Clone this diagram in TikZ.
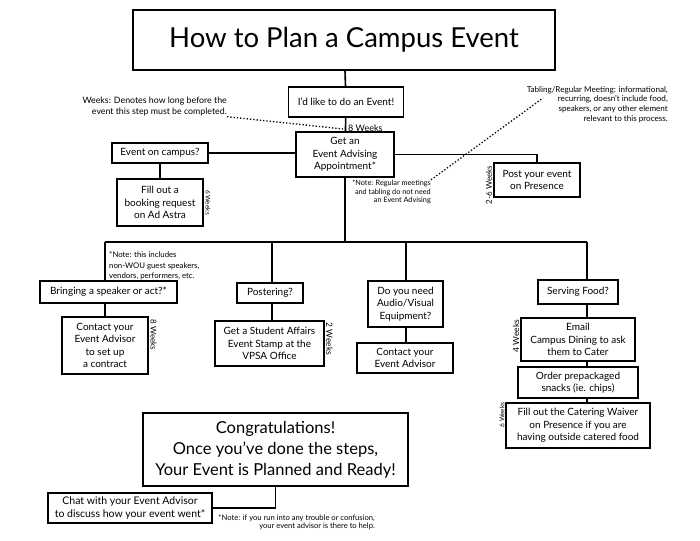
\documentclass[tikz,border=0pt]{standalone}
\usepackage{fontspec}
\setmainfont{Lato}
\usetikzlibrary{positioning}

\tikzset{
  box/.style={draw, line width=1.4pt, align=center, inner sep=1pt,
    font=\fontsize{10}{12.5}\selectfont},
  wk/.style={font=\fontsize{8}{9}\selectfont, inner sep=0pt},
  note/.style={font=\fontsize{7.5}{8.5}\selectfont, inner sep=0pt},
  conn/.style={line width=1.6pt},
  dots/.style={dotted, line width=1.3pt},
}

\begin{document}
\begin{tikzpicture}[x=1pt, y=-1pt]
\useasboundingbox (0,0) rectangle (700,540);

% title and first steps
\node[box, minimum width=422, minimum height=60, font=\fontsize{27.5}{32}\selectfont] at (344,40) (title) {How to Plan a Campus Event};
\node[box, minimum width=115, minimum height=30] at (346,102) (like) {I’d like to do an Event!};
\node[box, minimum width=98, minimum height=45] at (345,154.5) (appt) {Get an\\Event Advising\\Appointment*};
\node[box, minimum width=96, minimum height=20] at (160,153) (campus) {Event on campus?};
\node[box, minimum width=86, minimum height=47] at (160,202.5) (astra) {Fill out a\\booking request\\on Ad Astra};
\node[box, minimum width=86, minimum height=34] at (537,180) (post) {Post your event\\on Presence};

% second row
\node[box, minimum width=137, minimum height=22] at (108.5,292) (bring) {Bringing a speaker or act?*};
\node[box, minimum width=86, minimum height=57] at (105,345.5) (contact) {Contact your\\Event Advisor\\to set up\\a contract};
\node[box, minimum width=66, minimum height=20] at (270,293) (poster) {Postering?};
\node[box, minimum width=109, minimum height=45] at (269.5,343.5) (stamp) {Get a Student Affairs\\Event Stamp at the\\VPSA Office};
\node[box, minimum width=75, minimum height=46] at (405.5,304) (av) {Do you need\\Audio/Visual\\Equipment?};
\node[box, minimum width=96, minimum height=30] at (405,358) (avcontact) {Contact your\\Event Advisor};
\node[box, minimum width=80, minimum height=24] at (578,292) (food) {Serving Food?};
\node[box, minimum width=114, minimum height=43] at (578,339.5) (email) {Email\\Campus Dining to ask\\them to Cater};
\node[box, minimum width=120, minimum height=31] at (578,382.5) (snacks) {Order prepackaged\\snacks (ie. chips)};
\node[box, minimum width=144, minimum height=45] at (578,425.5) (waiver) {Fill out the Catering Waiver\\on Presence if you are\\having outside catered food};

% end
\node[box, minimum width=265, minimum height=73, font=\fontsize{16.5}{21}\selectfont] at (275.5,449.5) (congrats) {Congratulations!\\Once you’ve done the steps,\\Your Event is Planned and Ready!};
\node[box, minimum width=164, minimum height=30, font=\fontsize{10.5}{12.5}\selectfont] at (130,508) (chat) {Chat with your Event Advisor\\to discuss how your event went*};

% weeks
\node[wk, font=\fontsize{9}{10}\selectfont, anchor=west] at (348,128) (w8top) {8 Weeks};
\node[wk, font=\fontsize{6.5}{8}\selectfont, rotate=-90] at (208,202.5) (w6a) {6 Weeks};
\node[wk, rotate=90] at (489,185) (w26) {2-6 Weeks};
\node[wk, rotate=-90] at (153.5,335) (w8b) {8 Weeks};
\node[wk, font=\fontsize{8.5}{9}\selectfont, rotate=-90] at (329.5,339) (w2) {2 Weeks};
\node[wk, font=\fontsize{8.5}{9}\selectfont, rotate=90] at (516,336) (w4) {4 Weeks};
\node[wk, font=\fontsize{6.5}{8}\selectfont, rotate=90] at (502,415) (w6b) {6 Weeks};

% notes
\node[note, font=\fontsize{8.8}{11}\selectfont, align=right, anchor=east] at (227,107) (weeksnote) {Weeks: Denotes how long before the\\event this step must be completed.};
\node[note, font=\fontsize{8.1}{9.6}\selectfont, align=right, anchor=east] at (668,104.5) (tabnote) {Tabling/Regular Meeting: informational,\\recurring, doesn’t include food,\\speakers, or any other element\\relevant to this process.};
\node[note, font=\fontsize{7.3}{8.6}\selectfont, align=right, anchor=east] at (431,192) (regnote) {*Note: Regular meetings\\and tabling do not need\\an Event Advising};
\node[note, font=\fontsize{7.8}{10.5}\selectfont, align=left, anchor=west] at (109,266) (incnote) {*Note: this includes\\non-WOU guest speakers,\\vendors, performers, etc.};
\node[note, font=\fontsize{7.6}{8.2}\selectfont, align=right, anchor=east] at (375,522) (helpnote) {*Note: if you run into any trouble or confusion,\\your event advisor is there to help.};

% connectors
\coordinate (split) at (345,242);
\coordinate (sb) at (105,242);
\coordinate (sp) at (272,242);
\coordinate (sa) at (406,242);
\coordinate (sf) at (587,242);
\draw[conn] (title) -- (like);
\draw[conn] (like) -- (appt);
\draw[conn] (campus.east) -- (campus.east -| appt.west);
\draw[conn] (campus) -- (astra);
\draw[conn] (appt.east) -| (post.north);
\draw[conn] (appt) -- (split);
\draw[conn] (sb) -- (sf);
\draw[conn] (sb) -- (sb |- bring.north);
\draw[conn] (sb |- bring.south) -- (sb |- contact.north);
\draw[conn] (sp) -- (sp |- poster.north);
\draw[conn] (sp |- poster.south) -- (sp |- stamp.north);
\draw[conn] (sa) -- (sa |- av.north);
\draw[conn] (sa |- av.south) -- (sa |- avcontact.north);
\draw[conn] (sf) -- (sf |- food.north);
\draw[conn] (sf |- food.south) -- (sf |- email.north);
\draw[conn] (sf |- email.south) -- (sf |- snacks.north);
\draw[conn] (sf |- snacks.south) -- (sf |- waiver.north);
\draw[conn] (congrats.south) |- (chat.east);

% dotted pointers
\coordinate (dotend) at (343,129);
\coordinate (tabend) at (543,98);
\draw[dots] (weeksnote.south east) -- (dotend);
\draw[dots] (regnote.north east) -- (tabend);
\end{tikzpicture}
\end{document}
